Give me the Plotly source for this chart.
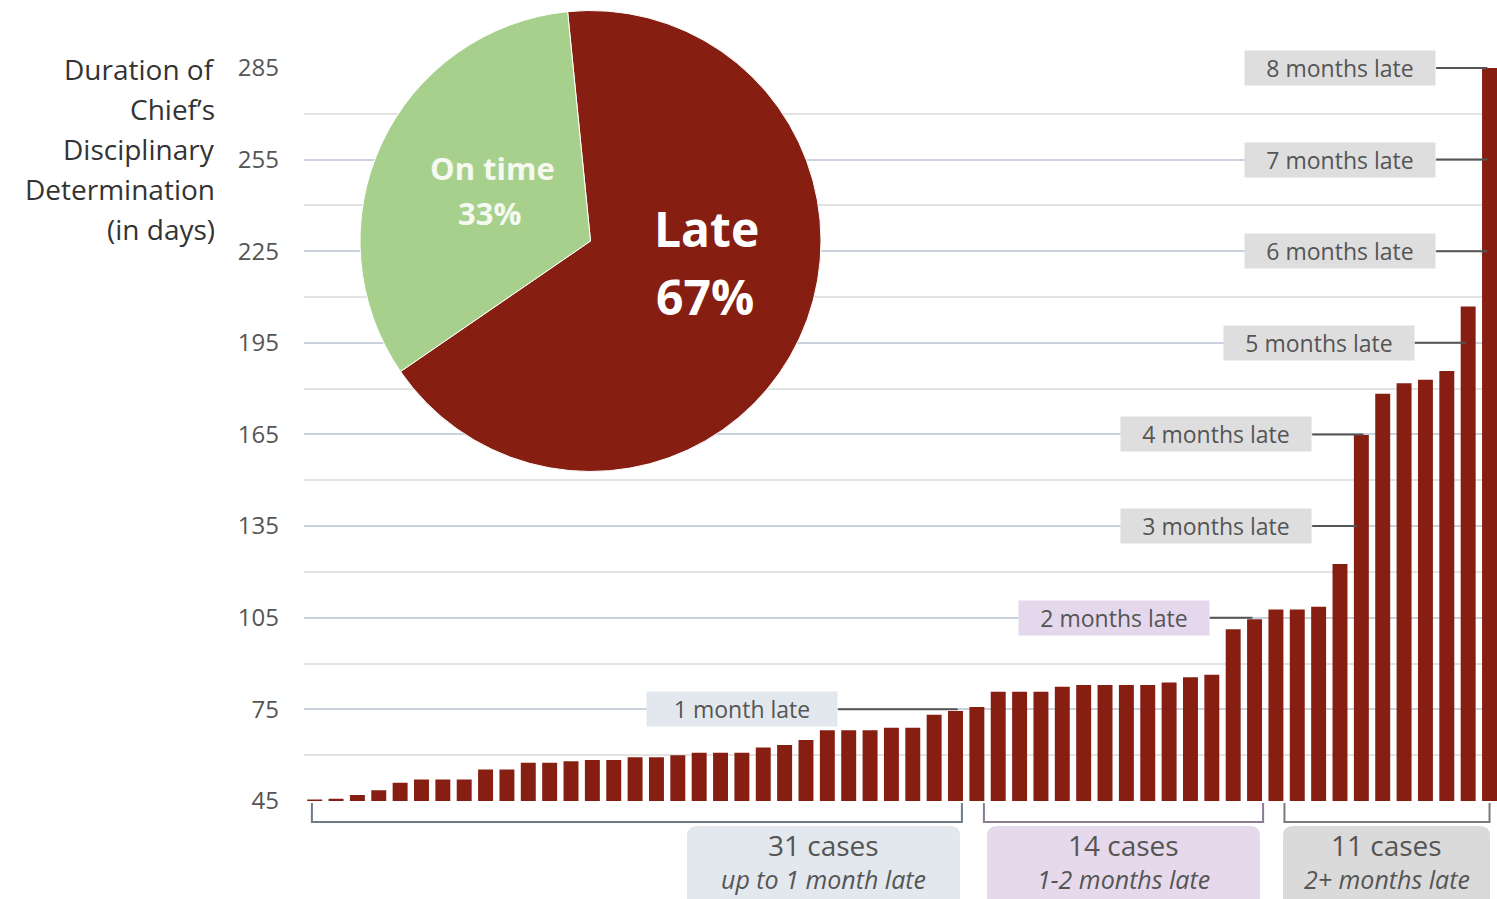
import plotly.graph_objects as go

W, H = 1497, 899

# ---------------- data ----------------
group_up_to_1 = [45.5, 45.7, 47, 48.5, 51, 52, 52, 52, 55.3, 55.3, 57.5, 57.5, 58, 58.4, 58.4,
                 59.3, 59.3, 60, 60.8, 60.8, 60.8, 62.5, 63.3, 65, 68.2, 68.2, 68.2, 69, 69,
                 73.2, 74.5]
group_1_to_2 = [75.8, 80.8, 80.8, 80.8, 82.4, 83, 83, 83, 83, 83.8, 85.5, 86.3, 101.2, 104.5]
group_2_plus = [107.7, 107.7, 108.6, 122.6, 164.8, 178.3, 181.8, 182.9, 185.8, 206.9, 285]

durations = group_up_to_1 + group_1_to_2 + group_2_plus
case_index = list(range(len(durations)))

pie_labels = ["Late", "On time"]
pie_values = [67, 33]

y_ticks = [45, 75, 105, 135, 165, 195, 225, 255, 285]

month_labels = ["1 month late", "2 months late", "3 months late", "4 months late",
                "5 months late", "6 months late", "7 months late", "8 months late"]
month_thresholds = [75, 105, 135, 165, 195, 225, 255, 285]

group_counts = ["31 cases", "14 cases", "11 cases"]
group_desc = ["up to 1 month late", "1-2 months late", "2+ months late"]

# ---------------- layout helpers ----------------
def PX(p):
    return p / W

def PY(p):
    return 1 - p / H

DARK_RED = "#861f12"
GREEN = "#a8d08d"
FONT = "Open Sans"

fig = go.Figure()

fig.add_trace(go.Bar(
    x=case_index, y=durations, marker=dict(color=DARK_RED, line=dict(width=0)),
    showlegend=False, hovertemplate="%{y} days<extra></extra>",
))

fig.add_trace(go.Pie(
    labels=pie_labels, values=pie_values, sort=False, direction="clockwise",
    rotation=-5.7, marker=dict(colors=[DARK_RED, GREEN], line=dict(color="white", width=1)),
    textinfo="none", showlegend=False,
    domain=dict(x=[PX(360), PX(821)], y=[PY(472), PY(10)]),
))

shapes = []
annotations = []

# month-late labels and connectors (label right edge, connector end) in bar-index units
label_right = [24.5, 41.9, 46.7, 46.7, 51.5, 52.5, 52.5, 52.5]
line_end = [30.1, 43.9, 48.8, 49.1, 53.9, 54.9, 54.9, 54.9]
label_bg = ["#e3e8ee", "#e5d8ec", "#dedede", "#dedede", "#dedede", "#dedede", "#dedede", "#dedede"]
for txt, thr, xr, xe, bg in zip(month_labels, month_thresholds, label_right, line_end, label_bg):
    shapes.append(dict(type="line", xref="x", yref="y", x0=xr, x1=xe, y0=thr, y1=thr,
                       line=dict(color="#555555", width=2), layer="above"))
    annotations.append(dict(xref="x", yref="y", x=xr, y=thr, xanchor="right", yanchor="middle",
                            text=txt, showarrow=False, bgcolor=bg, borderpad=5,
                            width=180, height=24, align="center", valign="middle",
                            font=dict(family=FONT, size=23, color="#555555")))

# group brackets under the bars (bar-index units)
bracket_span = [(-0.13, 30.3), (31.33, 44.4), (45.4, 55.0)]
bracket_colors = ["#6e7a88", "#8b7b94", "#7a7a7a"]
box_colors = ["#e3e8ee", "#e6d9ec", "#dadada"]
box_px = [(687, 960), (987, 1260), (1283, 1490)]
for (x0, x1), bc, boxc, (bx0, bx1), cnt, desc in zip(bracket_span, bracket_colors, box_colors,
                                                     box_px, group_counts, group_desc):
    shapes.append(dict(type="path", xref="x", yref="paper",
                       path=f"M {x0},{PY(803)} L {x0},{PY(822)} L {x1},{PY(822)} L {x1},{PY(803)}",
                       line=dict(color=bc, width=2)))
    r = 10
    y0p, y1p = 826, 905
    path = (f"M {PX(bx0 + r)},{PY(y0p)} L {PX(bx1 - r)},{PY(y0p)} "
            f"Q {PX(bx1)},{PY(y0p)} {PX(bx1)},{PY(y0p + r)} L {PX(bx1)},{PY(y1p)} "
            f"L {PX(bx0)},{PY(y1p)} L {PX(bx0)},{PY(y0p + r)} Q {PX(bx0)},{PY(y0p)} {PX(bx0 + r)},{PY(y0p)} Z")
    shapes.append(dict(type="path", xref="paper", yref="paper", path=path,
                       fillcolor=boxc, line=dict(width=0), layer="below"))
    cx = (bx0 + bx1) / 2
    annotations.append(dict(xref="paper", yref="paper", x=PX(cx), y=PY(845), text=cnt,
                            showarrow=False, xanchor="center", yanchor="middle",
                            font=dict(family=FONT, size=28, color="#555555")))
    annotations.append(dict(xref="paper", yref="paper", x=PX(cx), y=PY(879), text=f"<i>{desc}</i>",
                            showarrow=False, xanchor="center", yanchor="middle",
                            font=dict(family=FONT, size=25, color="#555555")))

# pie labels
annotations += [
    dict(xref="paper", yref="paper", x=PX(706), y=PY(228), text="<b>Late</b>", showarrow=False,
         xanchor="center", yanchor="middle", font=dict(family=FONT, size=48, color="white")),
    dict(xref="paper", yref="paper", x=PX(705), y=PY(297), text="<b>67%</b>", showarrow=False,
         xanchor="center", yanchor="middle", font=dict(family=FONT, size=48, color="white")),
    dict(xref="paper", yref="paper", x=PX(492), y=PY(168), text="<b>On time</b>", showarrow=False,
         xanchor="center", yanchor="middle", font=dict(family=FONT, size=31, color="#f5f9f0")),
    dict(xref="paper", yref="paper", x=PX(490), y=PY(213), text="<b>33%</b>", showarrow=False,
         xanchor="center", yanchor="middle", font=dict(family=FONT, size=31, color="#f5f9f0")),
]

# y-axis title (right aligned lines)
title_lines = ["Duration of", "Chief\u2019s", "Disciplinary", "Determination", "(in days)"]
for i, line in enumerate(title_lines):
    annotations.append(dict(xref="paper", yref="paper", x=PX(217), y=PY(69 + 40 * i), text=line,
                            showarrow=False, xanchor="right", yanchor="middle",
                            font=dict(family=FONT, size=28, color="#333333")))

fig.update_layout(
    width=W, height=H,
    margin=dict(l=0, r=0, t=0, b=0, pad=0, autoexpand=False),
    showlegend=False,
    paper_bgcolor="white", plot_bgcolor="white",
    bargap=0.3,
    font=dict(family=FONT),
    xaxis=dict(domain=[PX(304), 1], range=[-0.5, 55.35], showticklabels=False, showgrid=False,
               zeroline=False, ticks="", automargin=False),
    yaxis=dict(domain=[PY(801), PY(67)], range=[45, 285.3], tickvals=y_ticks,
               showgrid=True, gridcolor="#c9d2de", gridwidth=1.5, zeroline=False,
               tickfont=dict(family=FONT, size=24, color="#555555"), ticks="",
               ticklabelstandoff=24, automargin=False,
               minor=dict(tickvals=[60, 90, 120, 150, 180, 210, 240, 270], showgrid=True,
                          gridcolor="#e3e3e3", gridwidth=1.5)),
    shapes=shapes, annotations=annotations,
)

fig.write_html("out.html")
